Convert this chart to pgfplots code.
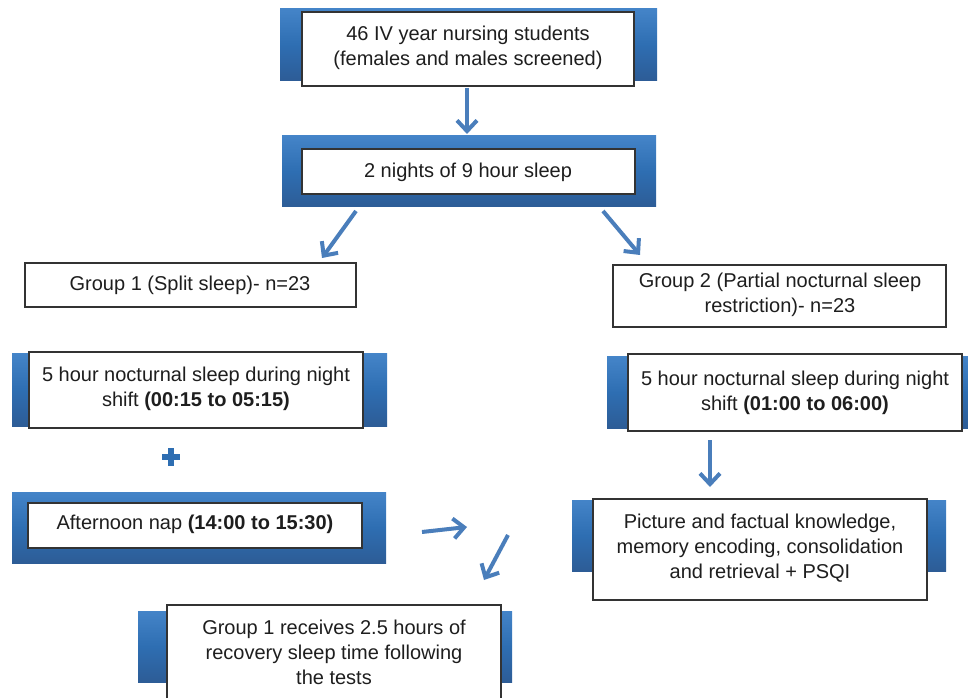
\documentclass[border=0pt]{standalone}
\usepackage{pgfplots}
\pgfplotsset{compat=1.18}
\usepackage{fontspec}
\setmainfont{Liberation Sans}
\usetikzlibrary{arrows.meta}
\definecolor{bT}{RGB}{68,132,200}
\definecolor{bM}{RGB}{46,110,178}
\definecolor{bB}{RGB}{45,92,150}
\definecolor{arr}{RGB}{74,126,187}
\definecolor{txt}{RGB}{30,30,30}
\begin{document}
\begin{tikzpicture}
\begin{axis}[width=726pt,height=523.5pt,scale only axis,
  xmin=0,xmax=968,ymin=0,ymax=698,y dir=reverse,
  hide axis,clip=false]
\path (axis cs:0,0) -- (axis cs:968,698);
% blue bars
\shade[top color=bT,bottom color=bB,middle color=bM] (axis cs:280,9) rectangle (axis cs:657,81);
\shade[top color=bT,bottom color=bB,middle color=bM] (axis cs:282,136) rectangle (axis cs:656,207);
\shade[top color=bT,bottom color=bB,middle color=bM] (axis cs:12,354) rectangle (axis cs:387,426);
\shade[top color=bT,bottom color=bB,middle color=bM] (axis cs:12,492) rectangle (axis cs:386,563);
\shade[top color=bT,bottom color=bB,middle color=bM] (axis cs:138,611) rectangle (axis cs:512,682);
\shade[top color=bT,bottom color=bB,middle color=bM] (axis cs:607,357) rectangle (axis cs:968,428);
\shade[top color=bT,bottom color=bB,middle color=bM] (axis cs:572,500) rectangle (axis cs:946,571);
% white boxes
\draw[fill=white,draw=black!80,line width=0.8pt] (axis cs:302,12) rectangle (axis cs:634,86);
\draw[fill=white,draw=black!80,line width=0.8pt] (axis cs:302,149) rectangle (axis cs:635,194);
\draw[fill=white,draw=black!80,line width=0.8pt] (axis cs:25,263) rectangle (axis cs:356,307);
\draw[fill=white,draw=black!80,line width=0.8pt] (axis cs:613,265) rectangle (axis cs:946,327);
\draw[fill=white,draw=black!80,line width=0.8pt] (axis cs:29,352) rectangle (axis cs:363,428);
\draw[fill=white,draw=black!80,line width=0.8pt] (axis cs:28,503) rectangle (axis cs:362,548);
\fill[white] (axis cs:167,605) rectangle (axis cs:501,698);
\draw[draw=black!80,line width=0.8pt] (axis cs:167,698) -- (axis cs:167,605) -- (axis cs:501,605) -- (axis cs:501,698);
\draw[fill=white,draw=black!80,line width=0.8pt] (axis cs:628,354) rectangle (axis cs:962,431);
\draw[fill=white,draw=black!80,line width=0.8pt] (axis cs:593,499) rectangle (axis cs:927,600);
% arrows
\tikzset{ar/.style={arr,line width=3pt,-{Straight Barb[length=8pt,width=15pt]}}}
\draw[ar] (axis cs:467,88) -- (axis cs:467,134);
\draw[ar] (axis cs:356,211) -- (axis cs:322,258);
\draw[ar] (axis cs:603,211) -- (axis cs:640,255);
\draw[ar] (axis cs:710,440) -- (axis cs:710,487);
\draw[ar] (axis cs:422,532) -- (axis cs:467,527);
\draw[ar] (axis cs:508,535) -- (axis cs:484,580);
% plus
\draw[bM,line width=4pt] (axis cs:162,457) -- (axis cs:180,457);
\draw[bM,line width=4pt] (axis cs:171,448) -- (axis cs:171,466);
% texts
\tikzset{t/.style={align=center,text=txt,font=\fontsize{15}{18.8}\selectfont,inner sep=0pt}}
\node[t] at (axis cs:468,48) {46 IV year nursing students\\(females and males screened)};
\node[t] at (axis cs:468,172) {2 nights of 9 hour sleep};
\node[t] at (axis cs:190,285) {Group 1 (Split sleep)- n=23};
\node[t] at (axis cs:780,295) {Group 2 (Partial nocturnal sleep\\restriction)- n=23};
\node[t] at (axis cs:196,389) {5 hour nocturnal sleep during night\\shift \textbf{(00:15 to 05:15)}};
\node[t] at (axis cs:195,524) {Afternoon nap \textbf{(14:00 to 15:30)}};
\node[t] at (axis cs:334,652) {Group 1 receives 2.5 hours of\\recovery sleep time following\\the tests};
\node[t] at (axis cs:795,393) {5 hour nocturnal sleep during night\\shift \textbf{(01:00 to 06:00)}};
\node[t] at (axis cs:760,548) {Picture and factual knowledge,\\memory encoding, consolidation\\and retrieval + PSQI};
\end{axis}
\end{tikzpicture}
\end{document}
